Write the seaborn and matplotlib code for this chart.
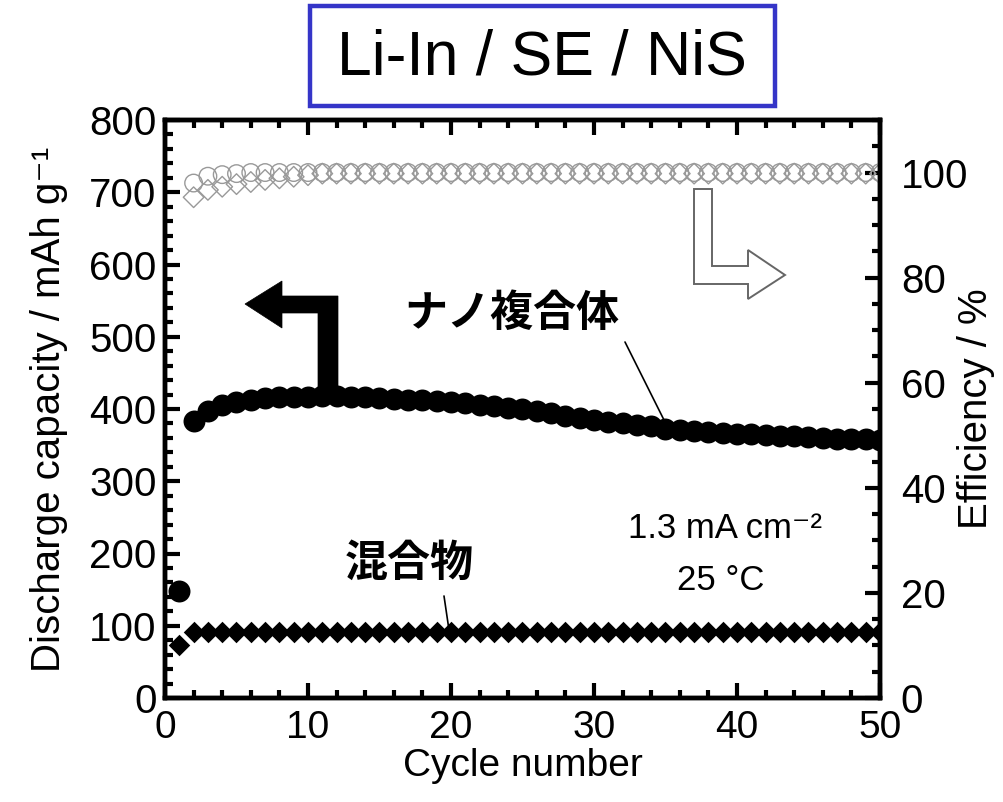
import numpy as np
import pandas as pd
import seaborn as sns
import matplotlib
matplotlib.use("Agg")
import matplotlib.pyplot as plt
from matplotlib import font_manager
from matplotlib.patches import Polygon, Rectangle
from matplotlib.lines import Line2D
from matplotlib.ticker import MultipleLocator

# ---- data -------------------------------------------------------------
cycles = list(range(1, 51))

nano_capacity = [148, 383, 397, 405, 410, 413, 415, 416, 417, 417,
                 418, 418, 417, 416, 415, 414, 413, 412, 411, 410,
                 408, 406, 404, 402, 400, 397, 394, 391, 388, 385,
                 382, 380, 378, 376, 373, 371, 369, 368, 367, 366,
                 365, 364, 363, 362, 361, 360, 359, 358, 358, 357]

mix_capacity = [73] + [92] * 20 + [91] * 29

nano_efficiency = [np.nan, 98.0, 99.3, 99.6, 99.8] + [100.0] * 45
mix_efficiency = [np.nan, 95.3, 96.7, 97.3, 97.8, 98.2, 98.6, 98.9,
                  99.2, 99.5] + [99.8] * 40

title_text = "Li-In / SE / NiS"
label_nano = "ナノ複合体"
label_mix = "混合物"
cond_text = ["1.3 mA cm⁻²", "25 °C"]

# ---- fonts ------------------------------------------------------------
sns.set_theme(style="ticks")
available = {f.name for f in font_manager.fontManager.ttflist}
narrow = next((f for f in ["Liberation Sans Narrow", "DejaVu Sans Condensed",
                           "Liberation Sans"] if f in available), "DejaVu Sans")
plt.rcParams["font.family"] = [narrow, "DejaVu Sans"]
plt.rcParams.update({
    "text.color": "black",
    "axes.labelcolor": "black",
    "xtick.color": "black",
    "ytick.color": "black",
})
cjk = ["Noto Sans CJK JP", "DejaVu Sans"]

df = pd.DataFrame({
    "cycle": cycles,
    "nano_cap": nano_capacity,
    "mix_cap": mix_capacity,
    "nano_eff": nano_efficiency,
    "mix_eff": mix_efficiency,
})

W, H = 1004, 802
fig = plt.figure(figsize=(W / 100, H / 100), dpi=100)
ax = fig.add_axes([165 / W, 1 - 698 / H, (880 - 165) / W, (698 - 120) / H])
ax2 = ax.twinx()

# efficiency (right axis), open grey markers
sns.scatterplot(data=df, x="cycle", y="mix_eff", ax=ax2, marker="D", s=110,
                facecolor="none", edgecolor="#999999", linewidth=1.0,
                legend=False, zorder=2)
sns.scatterplot(data=df, x="cycle", y="nano_eff", ax=ax2, marker="o", s=160,
                facecolor="none", edgecolor="#999999", linewidth=1.0,
                legend=False, zorder=3)

# discharge capacity (left axis), filled black markers
sns.scatterplot(data=df, x="cycle", y="mix_cap", ax=ax, marker="D", s=120,
                color="black", edgecolor="black", linewidth=0, legend=False)
sns.scatterplot(data=df, x="cycle", y="nano_cap", ax=ax, marker="o", s=250,
                color="black", edgecolor="black", linewidth=0, legend=False)

ax.set_xlim(0, 50)
ax.set_ylim(0, 800)
ax2.set_ylim(0, 110)

tick_fs = 29
ax.xaxis.set_major_locator(MultipleLocator(10))
ax.xaxis.set_minor_locator(MultipleLocator(2))
ax.yaxis.set_major_locator(MultipleLocator(100))
ax.yaxis.set_minor_locator(MultipleLocator(20))
ax2.yaxis.set_major_locator(MultipleLocator(20))
ax2.yaxis.set_minor_locator(MultipleLocator(5))

for a in (ax, ax2):
    for s in a.spines.values():
        s.set_linewidth(3.2)
        s.set_color("black")
ax.tick_params(axis="both", which="major", direction="in", length=11, width=3,
               labelsize=tick_fs, color="black", labelcolor="black")
ax.tick_params(axis="both", which="minor", direction="in", length=6, width=3,
               color="black")
ax.tick_params(axis="x", which="both", top=True, labeltop=False, pad=9,
               labelsize=28)
ax.tick_params(axis="y", which="both", left=True, right=False, pad=6)
ax2.tick_params(axis="y", which="major", direction="in", length=11, width=3,
                labelsize=tick_fs, pad=15, color="black", labelcolor="black")
ax2.tick_params(axis="y", which="minor", direction="in", length=6, width=3,
                color="black")

ax.set_xlabel("Cycle number", fontsize=28, labelpad=1)
ax.set_ylabel("Discharge capacity / mAh g⁻¹", fontsize=tick_fs)
ax.yaxis.set_label_coords(-0.135, 0.5)
ax2.set_ylabel("Efficiency / %", fontsize=tick_fs, labelpad=-8)

ax.set_zorder(ax2.get_zorder() + 1)
ax.patch.set_visible(False)


def px(x, y):
    return (x / W, 1 - y / H)


# title box
fig.patches.append(Rectangle(px(310, 106), (775 - 310) / W, (106 - 6) / H,
                             transform=fig.transFigure, fill=False,
                             edgecolor="#3535c8", linewidth=3.2))
fig.text(*px(542, 58), title_text, ha="center", va="center",
         fontsize=45, family=["Liberation Sans", "DejaVu Sans"])

# black arrow pointing to the left axis
left_arrow = [(338, 390), (338, 296), (282, 296), (282, 281), (245, 304),
              (282, 328), (282, 313), (318, 313), (318, 390)]
fig.patches.append(Polygon([px(*p) for p in left_arrow], closed=True,
                           transform=fig.transFigure, facecolor="black",
                           edgecolor="black", linewidth=0.5, zorder=5))

# hollow arrow pointing to the right axis
right_arrow = [(694, 189), (712, 189), (712, 266), (748, 266), (748, 250),
               (785, 275), (748, 299), (748, 284), (694, 284)]
fig.patches.append(Polygon([px(*p) for p in right_arrow], closed=True,
                           transform=fig.transFigure, facecolor="white",
                           edgecolor="#666666", linewidth=1.4, zorder=5))

# series labels with leader lines
fig.text(*px(512, 313), label_nano, ha="center", va="center", fontsize=31,
         fontweight="bold", family=cjk)
fig.lines.append(Line2D([625 / W, 664 / W], [1 - 342 / H, 1 - 420 / H],
                        transform=fig.transFigure, color="black", lw=1.2))
fig.text(*px(409, 563), label_mix, ha="center", va="center", fontsize=31,
         fontweight="bold", family=cjk)
fig.lines.append(Line2D([444 / W, 449 / W], [1 - 596 / H, 1 - 630 / H],
                        transform=fig.transFigure, color="black", lw=1.2))

# test conditions
fig.text(*px(725, 528), cond_text[0], ha="center", va="center", fontsize=25)
fig.text(*px(721, 580), cond_text[1], ha="center", va="center", fontsize=25)

fig.savefig("out.png", dpi=100)
